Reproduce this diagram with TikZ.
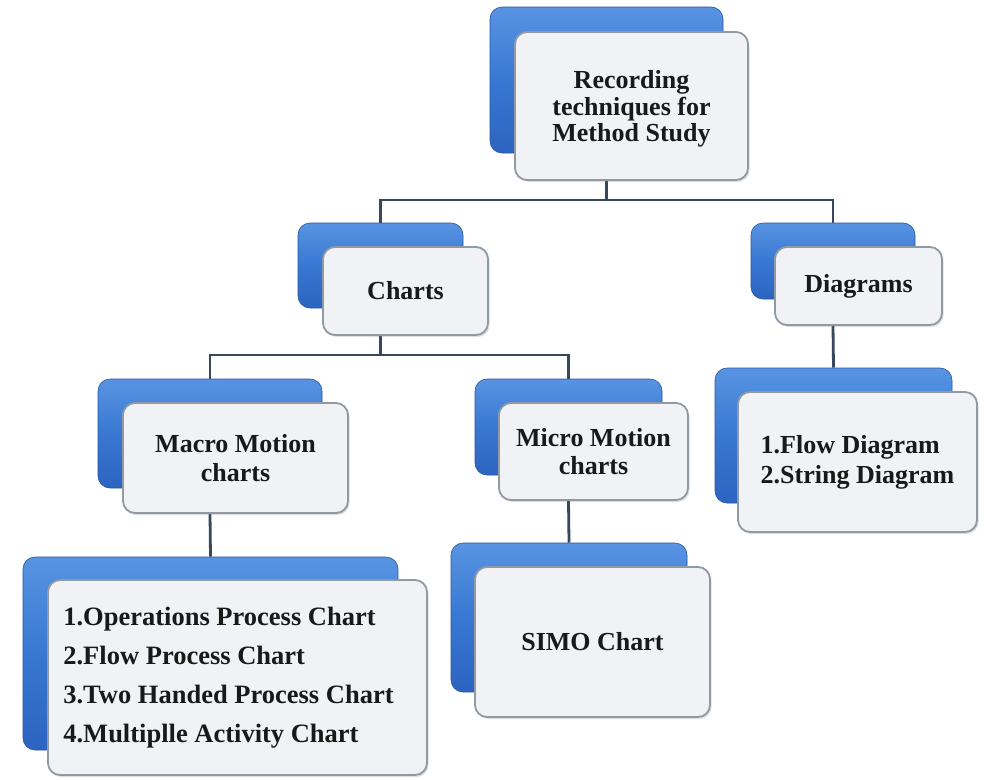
\documentclass[tikz,border=0pt]{standalone}
\usepackage{fontspec}
\setmainfont{Liberation Serif}
\usetikzlibrary{shadows,backgrounds}
\definecolor{bluetop}{RGB}{88,148,226}
\definecolor{bluemid}{RGB}{56,120,210}
\definecolor{bluebot}{RGB}{44,100,192}
\definecolor{bluerim}{RGB}{40,85,160}
\definecolor{panel}{RGB}{240,242,246}
\definecolor{panelline}{RGB}{145,153,163}
\definecolor{linkcol}{RGB}{55,72,92}
\tikzset{
  backbox/.style={rounded corners=12pt, top color=bluetop, bottom color=bluebot, middle color=bluemid,
    draw=bluerim, line width=0.6pt, inner sep=0pt},
  frontbox/.style={rounded corners=12pt, fill=panel, draw=panelline, line width=1.8pt,
    drop shadow={opacity=0.25, shadow xshift=1.5pt, shadow yshift=-2pt},
    font=\bfseries\fontsize{26}{28}\selectfont, align=center, inner sep=0pt, text=black!90},
  linkline/.style={draw=linkcol, line width=2.8pt}
}
\begin{document}
\begin{tikzpicture}[x=1pt,y=-1pt]
\useasboundingbox (0,0) rectangle (984,779);
\begin{scope}[on background layer]
  \fill[white] (0,0) rectangle (984,779);
\end{scope}
% top
\node[backbox, minimum width=233pt, minimum height=146pt] (b1) at (606.5,80) {};
\node[frontbox, minimum width=233pt, minimum height=148pt, font=\bfseries\fontsize{26}{26.5}\selectfont] (w1) at (631.5,106) {};
\node[font=\bfseries\fontsize{26}{26.5}\selectfont, align=center, text=black!90, inner sep=0pt] (t1) at (631.5,109) {Recording\\techniques for\\Method Study};
% charts
\node[backbox, minimum width=165pt, minimum height=85pt] (b2) at (380.5,265.5) {};
\node[frontbox, minimum width=165pt, minimum height=88pt] (w2) at (405.5,291) {Charts};
% diagrams
\node[backbox, minimum width=164pt, minimum height=76pt] (b3) at (833,261) {};
\node[frontbox, minimum width=167pt, minimum height=78pt] (w3) at (858.5,286) {Diagrams};
% macro
\node[backbox, minimum width=224pt, minimum height=109pt] (b4) at (210,433.5) {};
\node[frontbox, minimum width=225pt, minimum height=110pt, font=\bfseries\fontsize{26}{29}\selectfont] (w4) at (235.5,458) {Macro Motion\\charts};
% micro
\node[backbox, minimum width=187pt, minimum height=96pt] (b5) at (568.5,427) {};
\node[frontbox, minimum width=189pt, minimum height=97pt] (w5) at (593.5,451.5) {Micro Motion\\charts};
% flow / string diagram
\node[backbox, minimum width=237pt, minimum height=135pt] (b6) at (833.5,435.5) {};
\node[frontbox, minimum width=239pt, minimum height=140pt, align=left, font=\bfseries\fontsize{26}{30}\selectfont] (w6) at (857.5,462) {1.Flow Diagram\\2.String Diagram};
% list of macro charts
\node[backbox, minimum width=375pt, minimum height=193pt] (b7) at (210.5,653.5) {};
\node[frontbox, minimum width=379pt, minimum height=195pt, align=left, font=\bfseries\fontsize{26.5}{39}\selectfont] (w7) at (237.5,677.5) {\hspace*{-18pt}1.Operations Process Chart\\\hspace*{-18pt}2.Flow Process Chart\\\hspace*{-18pt}3.Two Handed Process Chart\\\hspace*{-18pt}4.Multiplle Activity Chart};
% SIMO
\node[backbox, minimum width=236pt, minimum height=149pt] (b8) at (569,617.5) {};
\node[frontbox, minimum width=235pt, minimum height=150pt] (w8) at (592.5,642) {SIMO Chart};
% connectors
\begin{scope}[on background layer]
  \coordinate (j1) at (606.5,200);
  \coordinate (j2) at (380.5,355);
  \draw[linkline] (b1 |- w1.south) -- (j1);
  \draw[linkline] (b2.north) |- (j1);
  \draw[linkline] (b3.north) |- (j1);
  \draw[linkline] (b2 |- w2.south) -- (j2);
  \draw[linkline] (b4.north) |- (j2);
  \draw[linkline] (b5.north) |- (j2);
  \draw[linkline] (b4 |- w4.south) -- (b7.north);
  \draw[linkline] (b5 |- w5.south) -- (b8.north);
  \draw[linkline] (b3 |- w3.south) -- (b6.north);
\end{scope}
\end{tikzpicture}
\end{document}
